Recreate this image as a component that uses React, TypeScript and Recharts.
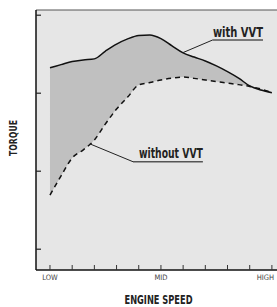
import {
  Area,
  CartesianGrid,
  ComposedChart,
  Line,
  ReferenceDot,
  ReferenceLine,
  XAxis,
  YAxis,
} from "recharts";

// engine speed, 0 = LOW, 5 = MID, 10 = HIGH
const speed = [0, 0.5, 1, 1.5, 2, 2.5, 3, 3.5, 4, 4.5, 5, 5.5, 6, 6.5, 7, 7.5, 8, 8.5, 9, 9.5, 10];
const torqueWithVvt = [
  79.8, 81.0, 82.2, 82.8, 83.2, 86.2, 88.9, 90.9, 92.2, 92.4, 91.0, 88.2, 85.5, 83.9, 82.4,
  80.5, 78.3, 75.8, 72.8, 71.2, 70.2,
];
const torqueWithoutVvt = [
  30.8, 38.2, 45.1, 48.2, 52.0, 58.2, 63.9, 68.5, 73.2, 74.1, 75.1, 75.8, 76.2, 75.7, 75.1,
  74.5, 73.9, 73.3, 72.6, 71.6, 70.2,
];
const speedTicks = [0, 1, 2, 3, 4, 5, 6, 7, 8, 9, 10];
const speedLabels: Record<number, string> = { 0: "LOW", 5: "MID", 10: "HIGH" };
const torqueTicks = [10, 40, 70, 100];

const data = speed.map((s, i) => ({
  speed: s,
  withVvt: torqueWithVvt[i],
  withoutVvt: torqueWithoutVvt[i],
}));

const condensed = "'Liberation Sans Narrow', 'DejaVu Sans Condensed', sans-serif";

const SpeedTick = (props: any) => {
  const { x, y, payload } = props;
  const label = speedLabels[payload.value];
  if (!label) return <g />;
  const last = payload.value === 10;
  return (
    <text
      x={last ? x + 5 : x}
      y={y + 13}
      textAnchor={last ? "end" : "middle"}
      fontSize={7.5}
      fontFamily={condensed}
      fill="#444"
    >
      {label}
    </text>
  );
};

// bold condensed text squeezed to the width seen in the picture
const BoldText = (p: { x: number; y: number; text: string; len: number; size: number; rotate?: boolean }) => (
  <text
    x={p.x}
    y={p.y}
    textAnchor="middle"
    fontSize={p.size}
    fontWeight="bold"
    fontFamily={condensed}
    fill="#222"
    textLength={p.len}
    lengthAdjust="spacingAndGlyphs"
    transform={p.rotate ? `rotate(-90 ${p.x} ${p.y})` : undefined}
  >
    {p.text}
  </text>
);

const note = (text: string, len: number) => (props: any) => (
  <BoldText x={props.cx} y={props.cy} text={text} len={len} size={14} />
);

export default function App() {
  return (
    <div style={{ position: "absolute", left: 0, top: 0 }}>
      <ComposedChart
        width={277}
        height={307}
        data={data}
        margin={{ top: 10, right: 0, bottom: 0, left: 0 }}
      >
        <CartesianGrid horizontal={false} vertical={false} fill="#e6e6e6" />
        <XAxis
          dataKey="speed"
          type="number"
          domain={[-0.63, 10.23]}
          ticks={speedTicks}
          allowDataOverflow
          height={37}
          tickSize={-5}
          tick={SpeedTick}
          stroke="#111"
          strokeWidth={1.5}
          tickLine={{ stroke: "#333", strokeWidth: 1 }}
          label={{
            content: (props: any) => {
              const vb = props.viewBox;
              return (
                <BoldText x={vb.x + vb.width / 2 + 2} y={vb.y + vb.height - 3} text="ENGINE SPEED" len={68} size={12} />
              );
            },
          }}
        />
        <YAxis
          type="number"
          domain={[2, 102]}
          ticks={torqueTicks}
          allowDataOverflow
          width={36}
          tickSize={-5}
          tick={() => <g />}
          stroke="#111"
          strokeWidth={1.5}
          tickLine={{ stroke: "#222", strokeWidth: 1.2 }}
          label={{
            content: (props: any) => {
              const vb = props.viewBox;
              return (
                <BoldText x={vb.x + 17} y={vb.y + vb.height / 2 - 2} text="TORQUE" len={36} size={11} rotate />
              );
            },
          }}
        />
        <ReferenceLine y={102} stroke="#555" strokeWidth={1} ifOverflow="visible" />
        <Area
          type="monotone"
          dataKey={(d: any) => [d.withoutVvt, d.withVvt]}
          fill="#c0c0c0"
          fillOpacity={1}
          stroke="none"
          isAnimationActive={false}
        />
        <Line
          type="monotone"
          dataKey="withoutVvt"
          stroke="#111"
          strokeWidth={1.5}
          strokeDasharray="5 4"
          dot={false}
          isAnimationActive={false}
        />
        <Line
          type="monotone"
          dataKey="withVvt"
          stroke="#111"
          strokeWidth={1.5}
          dot={false}
          isAnimationActive={false}
        />
        {/* callouts */}
        <ReferenceLine
          segment={[{ x: 5.99, y: 85.6 }, { x: 7.34, y: 90.5 }]}
          stroke="#222"
          strokeWidth={1}
          ifOverflow="visible"
        />
        <ReferenceLine
          segment={[{ x: 7.34, y: 90.5 }, { x: 9.6, y: 90.5 }]}
          stroke="#555"
          strokeWidth={1.5}
          ifOverflow="visible"
        />
        <ReferenceDot x={8.47} y={91.8} r={0} shape={note("with VVT", 50)} ifOverflow="visible" />
        <ReferenceLine
          segment={[{ x: 1.8, y: 50.5 }, { x: 3.74, y: 43.65 }]}
          stroke="#222"
          strokeWidth={1}
          ifOverflow="visible"
        />
        <ReferenceLine
          segment={[{ x: 3.74, y: 43.65 }, { x: 6.89, y: 43.65 }]}
          stroke="#555"
          strokeWidth={1.5}
          ifOverflow="visible"
        />
        <ReferenceDot x={5.45} y={45.2} r={0} shape={note("without VVT", 64)} ifOverflow="visible" />
      </ComposedChart>
    </div>
  );
}
